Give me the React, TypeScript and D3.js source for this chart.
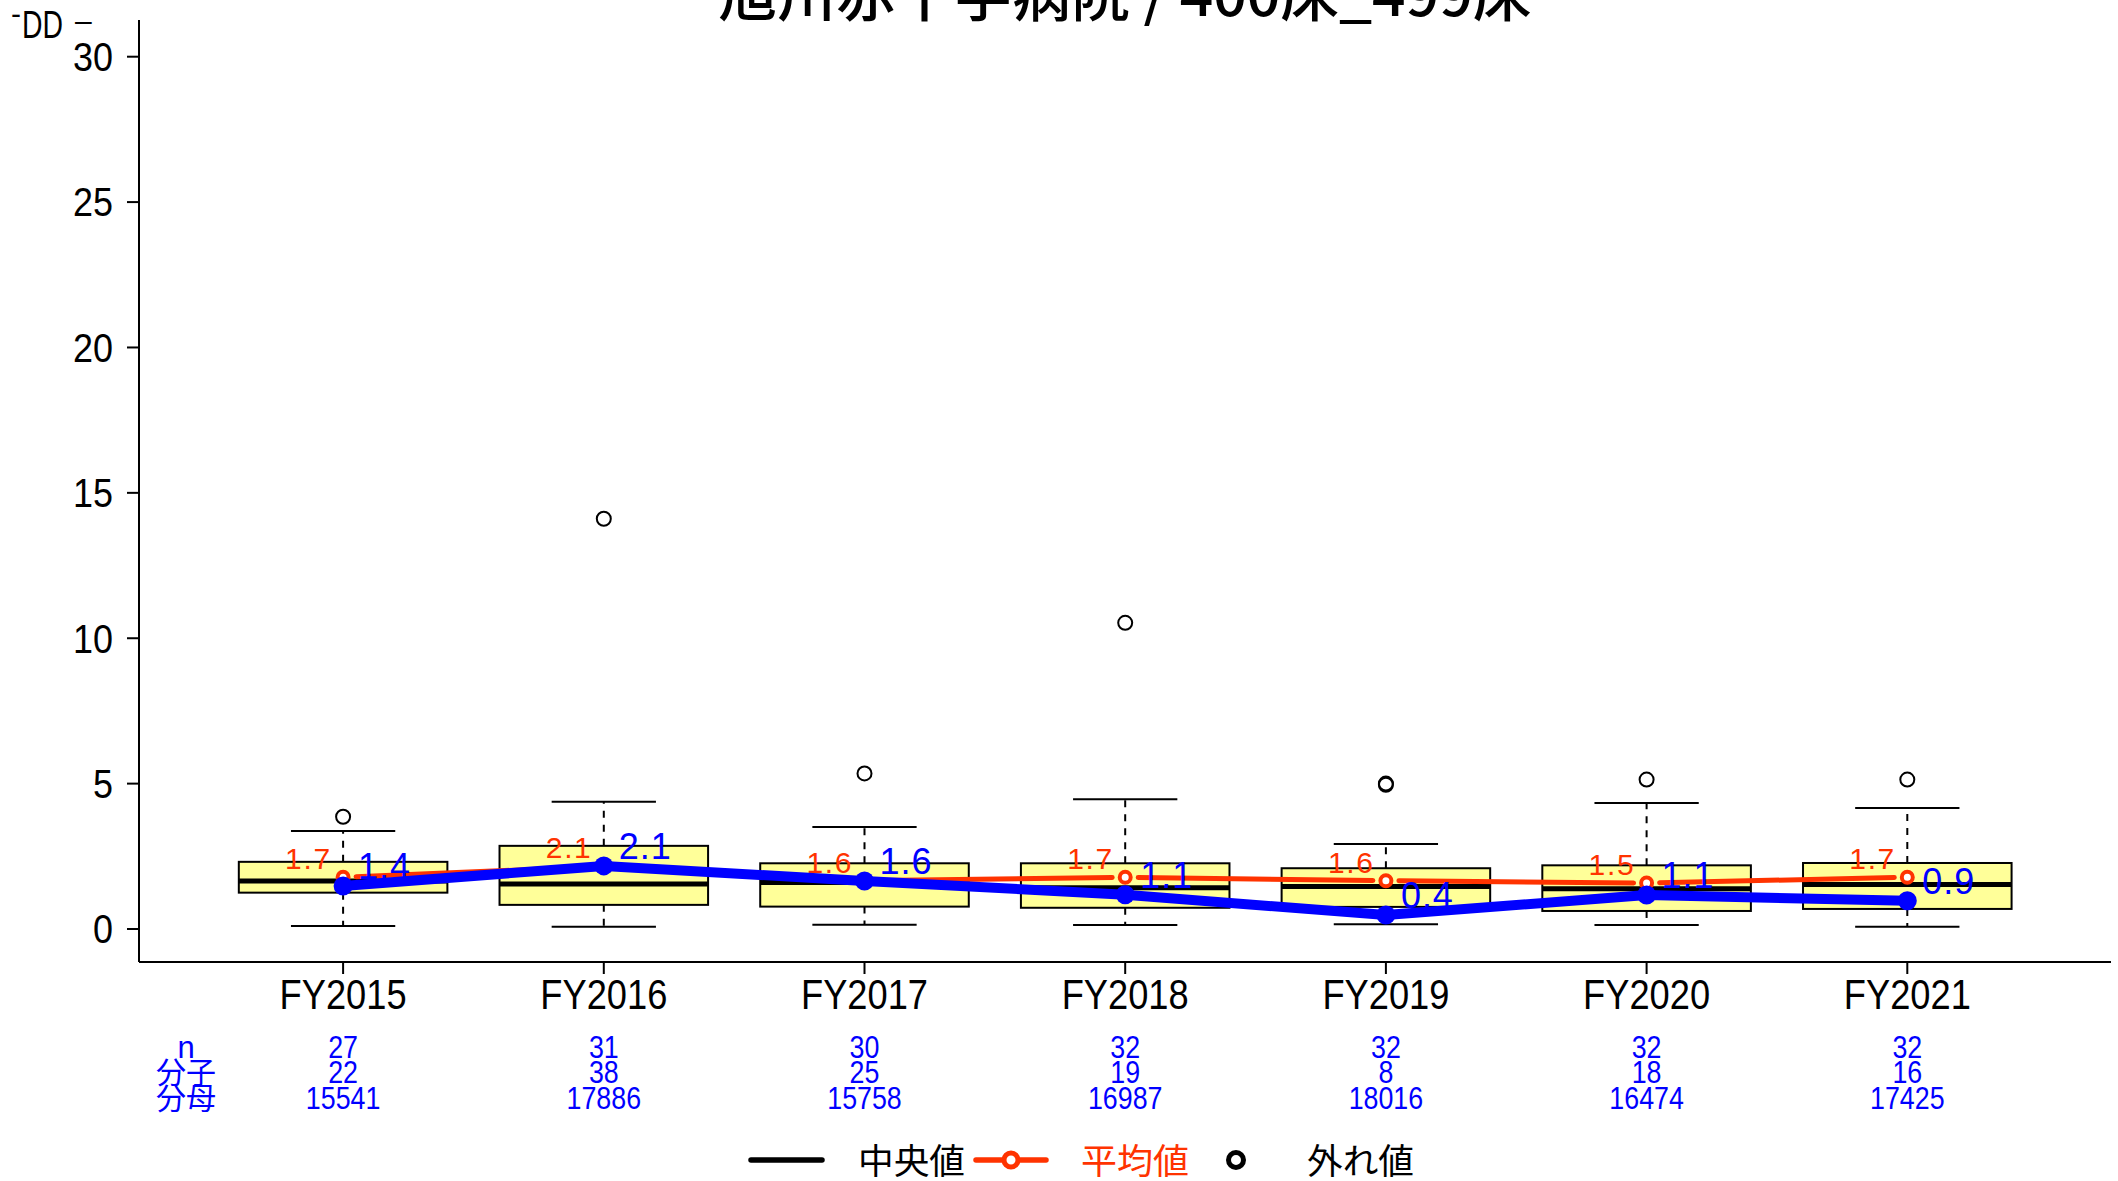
import React from "react";
import * as d3 from "d3";

const categories = ["FY2015", "FY2016", "FY2017", "FY2018", "FY2019", "FY2020", "FY2021"];
const whiskerLow = [0.1, 0.08, 0.15, 0.14, 0.16, 0.14, 0.08];
const boxLow = [1.25, 0.83, 0.77, 0.73, 0.76, 0.62, 0.69];
const medians = [1.65, 1.55, 1.6, 1.42, 1.46, 1.38, 1.53];
const boxHigh = [2.31, 2.86, 2.26, 2.26, 2.09, 2.19, 2.27];
const whiskerHigh = [3.37, 4.38, 3.51, 4.46, 2.92, 4.33, 4.16];
const outliers = [[3.86], [14.11], [5.35], [10.53], [5.0, 4.96], [5.14], [5.14]];
const meanValues = [1.78, 2.15, 1.66, 1.78, 1.66, 1.58, 1.78];
const hospitalValues = [1.48, 2.17, 1.65, 1.18, 0.48, 1.17, 0.97];
const nValues = [27, 31, 30, 32, 32, 32, 32];
const numerators = [22, 38, 25, 19, 8, 18, 16];
const denominators = [15541, 17886, 15758, 16987, 18016, 16474, 17425];
const yTicks = [0, 5, 10, 15, 20, 25, 30];
const rowLabels = ["n", "分子", "分母"];
const legendLabels = ["中央値", "平均値", "外れ値"];
const titleText = "旭川赤十字病院 / 400床_499床";

const W = 2118;
const H = 1181;
const LATIN = '"Liberation Sans", Arial, sans-serif';
const CJK = '"Noto Sans CJK JP", "Noto Sans CJK SC", sans-serif';
const RED = "#ff3300";
const BLUE = "#0000ff";
const BOXFILL = "#ffff99";

const x = d3.scalePoint<string>().domain(categories).range([343.1, 1907.3]);
const y = d3.scaleLinear().domain([0, 30]).range([929, 56.7]);
const step = x.step();
const boxW = step * 0.8;
const capW = step * 0.4;
const trunc = (v: number) => (Math.floor(v * 10 + 1e-9) / 10).toFixed(1);

function gappedSegments(pts: [number, number][], gap: number) {
  const segs: [number, number, number, number][] = [];
  for (let i = 0; i < pts.length - 1; i++) {
    const [x1, y1] = pts[i];
    const [x2, y2] = pts[i + 1];
    const len = Math.hypot(x2 - x1, y2 - y1);
    const ux = (x2 - x1) / len;
    const uy = (y2 - y1) / len;
    segs.push([x1 + ux * gap, y1 + uy * gap, x2 - ux * gap, y2 - uy * gap]);
  }
  return segs;
}

export default function App() {
  const meanPts: [number, number][] = categories.map((c, i) => [x(c)!, y(meanValues[i])]);
  const hospPts: [number, number][] = categories.map((c, i) => [x(c)!, y(hospitalValues[i])]);
  const line = d3.line();
  const rowsY = [1058, 1083, 1109];
  const rowValues = [nValues, numerators, denominators];

  return (
    <svg width={W} height={H} style={{ position: "absolute", left: 0, top: 0, display: "block", background: "#fff" }}>
      {/* title */}
      <text x={1125} y={16} textAnchor="middle" fontFamily={CJK} fontSize={56} fontWeight={500} textLength={813} lengthAdjust="spacingAndGlyphs">
        {titleText}
      </text>
      {/* clipped y label remnants */}
      <text x={11} y={24} fontFamily={LATIN} fontSize={30}>-</text>
      <text x={22} y={38} fontFamily={LATIN} fontSize={39} textLength={41} lengthAdjust="spacingAndGlyphs">DD</text>
      <text x={75} y={31} fontFamily={LATIN} fontSize={30}>–</text>

      {/* axes */}
      <line x1={139} x2={139} y1={20} y2={962} stroke="#000" strokeWidth={2} />
      <line x1={139} x2={2111} y1={962} y2={962} stroke="#000" strokeWidth={2} />
      {yTicks.map((t) => (
        <g key={t}>
          <line x1={127} x2={139} y1={y(t)} y2={y(t)} stroke="#000" strokeWidth={2} />
          <text x={113} y={y(t)} dy="0.36em" textAnchor="end" fontFamily={LATIN} fontSize={40} textLength={String(t).length * 20} lengthAdjust="spacingAndGlyphs">
            {t}
          </text>
        </g>
      ))}
      {categories.map((c) => (
        <g key={c}>
          <line x1={x(c)} x2={x(c)} y1={962} y2={974} stroke="#000" strokeWidth={2} />
          <text x={x(c)} y={1009} textAnchor="middle" fontFamily={LATIN} fontSize={43} textLength={127} lengthAdjust="spacingAndGlyphs">
            {c}
          </text>
        </g>
      ))}

      {/* boxes */}
      {categories.map((c, i) => {
        const cx = x(c)!;
        return (
          <g key={"b" + c}>
            <line x1={cx} x2={cx} y1={y(boxHigh[i])} y2={y(whiskerHigh[i])} stroke="#000" strokeWidth={2} strokeDasharray="7,7" />
            <line x1={cx} x2={cx} y1={y(boxLow[i])} y2={y(whiskerLow[i])} stroke="#000" strokeWidth={2} strokeDasharray="7,7" />
            <line x1={cx - capW / 2} x2={cx + capW / 2} y1={y(whiskerHigh[i])} y2={y(whiskerHigh[i])} stroke="#000" strokeWidth={2} />
            <line x1={cx - capW / 2} x2={cx + capW / 2} y1={y(whiskerLow[i])} y2={y(whiskerLow[i])} stroke="#000" strokeWidth={2} />
            <rect x={cx - boxW / 2} width={boxW} y={y(boxHigh[i])} height={y(boxLow[i]) - y(boxHigh[i])} fill={BOXFILL} stroke="#000" strokeWidth={2} />
            <line x1={cx - boxW / 2} x2={cx + boxW / 2} y1={y(medians[i])} y2={y(medians[i])} stroke="#000" strokeWidth={5} />
            {outliers[i].map((o, j) => (
              <circle key={j} cx={cx} cy={y(o)} r={7} fill="none" stroke="#000" strokeWidth={2} />
            ))}
          </g>
        );
      })}

      {/* mean line (red) */}
      {gappedSegments(meanPts, 13).map((s, i) => (
        <line key={"rs" + i} x1={s[0]} y1={s[1]} x2={s[2]} y2={s[3]} stroke={RED} strokeWidth={5} strokeLinecap="round" />
      ))}
      {meanPts.map((p, i) => (
        <circle key={"rp" + i} cx={p[0]} cy={p[1]} r={5.5} fill="#fff" stroke={RED} strokeWidth={4} />
      ))}
      {meanPts.map((p, i) => (
        <text key={"rt" + i} x={p[0] - 13} y={p[1] - 8} textAnchor="end" fill={RED} fontFamily={LATIN} fontSize={30} textLength={45} lengthAdjust="spacing">
          {trunc(meanValues[i])}
        </text>
      ))}

      {/* hospital line (blue) */}
      <path d={line(hospPts) || ""} fill="none" stroke={BLUE} strokeWidth={10} strokeLinejoin="round" />
      {hospPts.map((p, i) => (
        <circle key={"bp" + i} cx={p[0]} cy={p[1]} r={9.5} fill={BLUE} />
      ))}
      {hospPts.map((p, i) => (
        <text key={"bt" + i} x={p[0] + 15} y={p[1] - 7} fill={BLUE} fontFamily={LATIN} fontSize={36} textLength={52} lengthAdjust="spacing">
          {trunc(hospitalValues[i])}
        </text>
      ))}

      {/* stats rows */}
      {rowLabels.map((lab, r) => (
        <text key={"rl" + r} x={186} y={rowsY[r]} textAnchor="middle" fill={BLUE} fontFamily={r === 0 ? LATIN : CJK} fontSize={r === 0 ? 31 : 30}>
          {lab}
        </text>
      ))}
      {rowValues.map((vals, r) =>
        categories.map((c, i) => (
          <text key={"rv" + r + c} x={x(c)} y={rowsY[r]} textAnchor="middle" fill={BLUE} fontFamily={LATIN} fontSize={31} textLength={String(vals[i]).length * 14.9} lengthAdjust="spacingAndGlyphs">
            {vals[i]}
          </text>
        ))
      )}

      {/* legend */}
      <line x1={751} x2={822} y1={1160} y2={1160} stroke="#000" strokeWidth={5.5} strokeLinecap="round" />
      <text x={858} y={1174} fontFamily={CJK} fontSize={35} textLength={107} lengthAdjust="spacingAndGlyphs">{legendLabels[0]}</text>
      <line x1={976} x2={1046} y1={1160} y2={1160} stroke={RED} strokeWidth={5.5} strokeLinecap="round" />
      <circle cx={1011} cy={1160} r={7} fill="#fff" stroke={RED} strokeWidth={5} />
      <text x={1081} y={1174} fill={RED} fontFamily={CJK} fontSize={35} textLength={108} lengthAdjust="spacingAndGlyphs">{legendLabels[1]}</text>
      <circle cx={1236} cy={1160} r={7.5} fill="#fff" stroke="#000" strokeWidth={5} />
      <text x={1307} y={1174} fontFamily={CJK} fontSize={35} textLength={107} lengthAdjust="spacingAndGlyphs">{legendLabels[2]}</text>
    </svg>
  );
}
